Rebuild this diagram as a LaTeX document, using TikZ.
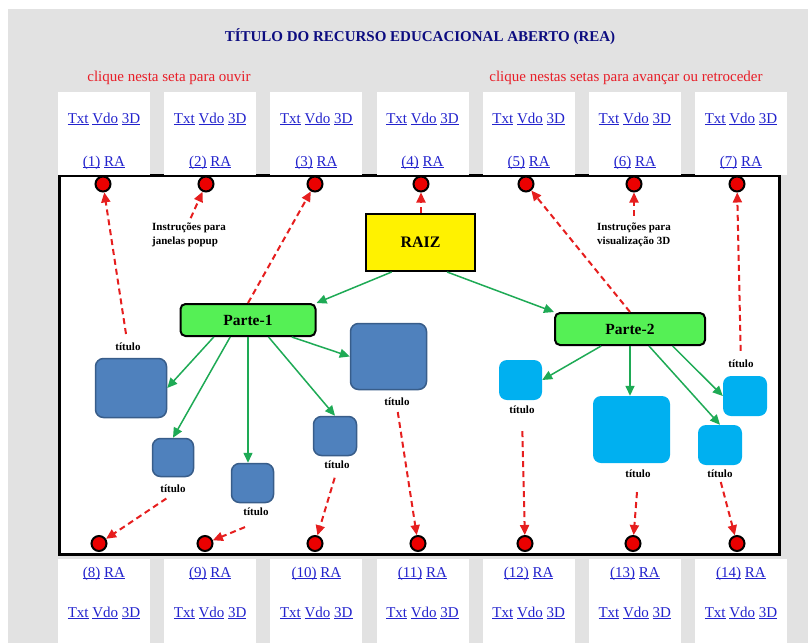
\documentclass[tikz,border=0pt]{standalone}
\usepackage{fontspec}
\setmainfont{Liberation Serif}
\usetikzlibrary{arrows.meta,calc}
\definecolor{paper}{RGB}{226,226,226}
\definecolor{navy}{RGB}{12,12,128}
\definecolor{hint}{RGB}{232,30,40}
\definecolor{linkblue}{RGB}{35,35,205}
\definecolor{dotred}{RGB}{235,0,0}
\definecolor{arrowred}{RGB}{230,30,30}
\definecolor{flowgreen}{RGB}{30,170,85}
\definecolor{partgreen}{RGB}{85,240,85}
\definecolor{darkblue}{RGB}{79,129,189}
\definecolor{darkblueedge}{RGB}{56,93,138}
\definecolor{skyblue}{RGB}{0,176,240}
% underlined link word, underline at a fixed distance below the baseline
\newcommand\lnk[1]{\underline{\smash{#1}}}

\begin{document}
\begin{tikzpicture}[x=1pt,y=-1pt,
  panel/.style={fill=white, draw=none, inner sep=0pt, minimum width=92pt},
  linktext/.style={text=linkblue, font=\fontsize{15}{18}\selectfont, inner sep=0pt, anchor=base},
  dot/.style={circle, draw=black, line width=2pt, fill=dotred, minimum size=15pt, inner sep=0pt},
  rootbox/.style={draw=black, line width=2pt, fill=yellow, minimum width=109pt, minimum height=57pt, inner sep=0pt, font=\bfseries\fontsize{16}{19}\selectfont},
  partbox/.style={draw=black, line width=2pt, fill=partgreen, rounded corners=5pt, minimum height=32pt, inner sep=0pt, font=\bfseries\fontsize{15.5}{18}\selectfont},
  topicA/.style={draw=darkblueedge, line width=1.5pt, fill=darkblue, rounded corners=8pt, inner sep=0pt},
  topicB/.style={fill=skyblue, rounded corners=8pt, inner sep=0pt},
  caption/.style={font=\bfseries\fontsize{11}{13}\selectfont, inner sep=1pt},
  note/.style={font=\bfseries\fontsize{11}{14}\selectfont, align=left, inner sep=1pt, anchor=west},
  flow/.style={draw=flowgreen, line width=1.5pt, -{Triangle[length=10pt,width=9pt]}},
  hop/.style={draw=arrowred, line width=2pt, dash pattern=on 6pt off 4pt, -{Triangle[length=10pt,width=9pt]}}
]
\useasboundingbox (0,0) rectangle (808,643);

% page background
\fill[white] (0,0) rectangle (808,643);
\fill[paper] (8,9) rectangle (808,643);

% heading and hints
\node[font=\bfseries\fontsize{15}{18}\selectfont, text=navy] (heading) at (420,37) {TÍTULO DO RECURSO EDUCACIONAL ABERTO (REA)};
\node[font=\fontsize{15}{18}\selectfont, text=hint] (hintleft) at (169,78) {clique nesta seta para ouvir};
\node[font=\fontsize{15}{18}\selectfont, text=hint] (hintright) at (626,78) {clique nestas setas para avançar ou retroceder};

% map area
\node[draw=black, line width=3pt, fill=white, minimum width=720pt, minimum height=379pt, inner sep=0pt] (stage) at (419.75,365) {};

% upper link panels
\foreach \i/\x in {1/104,2/210.2,3/316.3,4/422.5,5/528.7,6/634.8,7/741}{
  \node[panel, minimum height=83pt] (tp\i) at (\x,133.5) {};
  \node[linktext] (tl\i) at (\x,123) {\lnk{Txt} \lnk{Vdo} \lnk{3D}};
  \node[linktext] (tr\i) at (\x,166) {\lnk{(\i)} \lnk{RA}};
}
% lower link panels
\foreach \i/\x in {8/104,9/210.2,10/316.3,11/422.5,12/528.7,13/634.8,14/741}{
  \node[panel, minimum height=85pt] (bp\i) at (\x,601.5) {};
  \node[linktext] (bl\i) at (\x,617) {\lnk{Txt} \lnk{Vdo} \lnk{3D}};
  \node[linktext] (br\i) at (\x,577) {\lnk{(\i)} \lnk{RA}};
}

% audio buttons
\node[dot] (t1) at (103,184) {};
\node[dot] (t2) at (206,184) {};
\node[dot] (t3) at (315,184) {};
\node[dot] (t4) at (421,184) {};
\node[dot] (t5) at (526,184) {};
\node[dot] (t6) at (634,184) {};
\node[dot] (t7) at (737,184) {};
\node[dot] (b8) at (99,543.5) {};
\node[dot] (b9) at (205,543.5) {};
\node[dot] (b10) at (315,543.5) {};
\node[dot] (b11) at (418,543.5) {};
\node[dot] (b12) at (525,543.5) {};
\node[dot] (b13) at (633,543.5) {};
\node[dot] (b14) at (737,543.5) {};

% concept map
\node[rootbox] (raiz) at (420.5,242.5) {RAIZ};
\node[partbox, minimum width=135pt] (p1) at (248,320) {Parte-1};
\node[partbox, minimum width=150pt] (p2) at (630,329) {Parte-2};

\node[topicA, minimum width=71pt, minimum height=59pt] (a1) at (131,388) {};
\node[topicA, minimum width=41pt, minimum height=38pt] (a2) at (173,457.5) {};
\node[topicA, minimum width=42pt, minimum height=39pt] (a3) at (252.5,483) {};
\node[topicA, minimum width=43pt, minimum height=39pt] (a4) at (335,436) {};
\node[topicA, minimum width=76pt, minimum height=66pt] (a5) at (388.5,356.5) {};

\node[topicB, minimum width=43pt, minimum height=40pt] (c1) at (520.5,380) {};
\node[topicB, minimum width=77pt, minimum height=67pt] (c2) at (631.5,429.5) {};
\node[topicB, minimum width=44pt, minimum height=40pt] (c3) at (720,445) {};
\node[topicB, minimum width=44pt, minimum height=40pt] (c4) at (745,396) {};

\node[caption] (ca1) at (128,347) {título};
\node[caption] (ca2) at (173,489) {título};
\node[caption] (ca3) at (256,512) {título};
\node[caption] (ca4) at (337,465) {título};
\node[caption] (ca5) at (397,402) {título};
\node[caption] (cc1) at (522,410) {título};
\node[caption] (cc2) at (638,474) {título};
\node[caption] (cc3) at (720,474) {título};
\node[caption] (cc4) at (741,364) {título};

\node[note] (ins1) at (151,235) {Instruções para\\janelas popup};
\node[note] (ins2) at (596,235) {Instruções para\\visualização 3D};

% hierarchy
\draw[flow] ($(raiz.south west)!0.24!(raiz.south east)$) -- (p1.north east);
\draw[flow] ($(raiz.south west)!0.74!(raiz.south east)$) -- (p2.north west);

\draw[flow] ($(p1.south west)!0.25!(p1.south east)$) -- (a1.east);
\draw[flow] ($(p1.south west)!0.37!(p1.south east)$) -- (a2.north);
\draw[flow] (p1.south) -- (a3.north -| p1.south);
\draw[flow] ($(p1.south west)!0.65!(p1.south east)$) -- (a4.north);
\draw[flow] ($(p1.south west)!0.82!(p1.south east)$) -- (a5.west);

\draw[flow] ($(p2.south west)!0.31!(p2.south east)$) -- (c1.east);
\draw[flow] (p2.south) -- (c2.north -| p2.south);
\draw[flow] ($(p2.south west)!0.625!(p2.south east)$) -- (c3.north);
\draw[flow] ($(p2.south west)!0.78!(p2.south east)$) -- (c4.west);

% links to the upper buttons
\draw[hop, shorten <=8pt] (ca1) -- (t1);
\draw[hop, shorten <=4pt] ($(ins1.north west)!0.5!(ins1.north east)$) -- (t2);
\draw[hop] (p1.north) -- (t3);
\draw[hop] (raiz.north -| t4) -- (t4);
\draw[hop] (p2.north) -- (t5);
\draw[hop, shorten <=6pt] (ins2.north -| t6) -- (t6);
\draw[hop, shorten <=8pt] (cc4) -- (t7);

% links to the lower buttons
\draw[hop, shorten <=8pt] (ca2.south) -- (b8);
\draw[hop] ([shift={(-11,10)}]ca3.south) -- (b9);
\draw[hop, shorten <=8pt] (ca4.south) -- (b10);
\draw[hop, shorten <=5pt] (ca5.south) -- (b11);
\draw[hop, shorten <=16pt] (cc1.south) -- (b12);
\draw[hop, shorten <=13pt] (cc2.south) -- (b13);
\draw[hop, shorten <=3pt] (cc3.south) -- (b14);
\end{tikzpicture}
\end{document}
